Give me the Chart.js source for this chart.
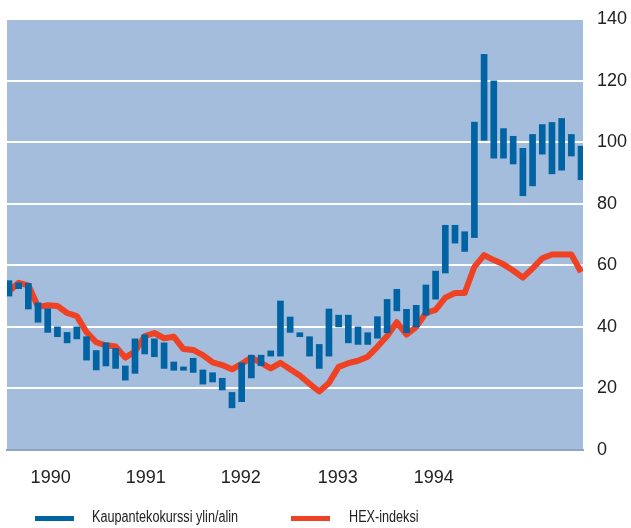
<!DOCTYPE html>
<html>
<head>
<meta charset="utf-8">
<script src="https://cdn.jsdelivr.net/npm/chart.js@4"></script>
<style>
body { margin: 0; background: #fff; }
#wrap { position: relative; width: 631px; height: 528px; }
#chart { position: absolute; left: 0; top: 0; }
.swatch { position: absolute; top: 516px; width: 39px; height: 5px; }
.legtext { position: absolute; top: 508px; font-family: "Liberation Sans", Arial, sans-serif; font-size: 16px; color: #222; white-space: nowrap; transform: scaleX(0.79); transform-origin: left center; }
</style>
</head>
<body>
<div id="wrap">
  <canvas id="chart" width="631" height="528"></canvas>
  <div class="swatch" style="left:35px;background:#0063a3"></div>
  <div class="legtext" style="left:92px">Kaupantekokurssi ylin/alin</div>
  <div class="swatch" style="left:291px;background:#ef4224"></div>
  <div class="legtext" style="left:349px">HEX-indeksi</div>
</div>
<script>
// tick labels and where they sit on the period axis
const yearLabels = ['1990', '1991', '1992', '1993', '1994'];
const yearTicks = [4.3, 14.1, 23.9, 33.9, 43.8];

// trading price low / high per period
const priceLow = [50, 52.4, 45.8, 41.5, 38.2, 36.8, 34.8, 36.1, 29.2, 26,
                  27.3, 26.5, 22.7, 24.9, 31.2, 30.3, 26.5, 25.9, 25.9, 25.2,
                  21.4, 22.1, 19.5, 13.7, 15.7, 23.4, 27.4, 30.5, 30.5, 38.2,
                  36.8, 30.5, 26.5, 30.5, 40, 34.8, 34.3, 34.3, 36.3, 38.1,
                  45.2, 38.1, 40, 43.8, 49, 57.5, 67.2, 64.5, 69, 100.6,
                  94.8, 94.8, 92.9, 82.6, 85.8, 96.1, 89.7, 90.9, 95.5, 87.8];
const priceHigh = [55, 54.3, 54.1, 47.8, 45.9, 40, 38.2, 40, 36.8, 32.3,
                   34.8, 33, 27.3, 36.1, 37.4, 36.1, 34.8, 28.6, 27, 29.8,
                   26, 25.1, 23.3, 18.7, 28.3, 30.8, 30.8, 32.2, 48.4, 43.2,
                   38.1, 36.8, 34.3, 45.8, 43.8, 43.8, 40, 38.1, 43.3, 48.9,
                   52.2, 45.7, 47, 53.6, 58.1, 73, 73, 70.9, 106.5, 128.5,
                   119.9, 104.4, 101.9, 98, 102.5, 105.7, 106.4, 107.7, 102.5, 98.7];
// HEX index
const hexIndex = [51.5, 54.3, 53.5, 46.5, 47, 46.8, 44.5, 43.5, 38.3, 35,
                  34, 33.6, 30, 32, 37, 38, 36.3, 36.8, 32.8, 32.5,
                  30.8, 28.5, 27.6, 26.2, 28, 30, 28.3, 26.5, 28.3, 26.2,
                  24.2, 21.5, 19, 21.8, 27, 28.2, 29, 30.3, 33.5, 37,
                  41.5, 37.5, 40, 44.5, 45.5, 49.5, 51, 51, 59.5, 63.3,
                  61.7, 60.3, 58.3, 56, 59, 62.3, 63.5, 63.5, 63.5, 57.8];

const fontFamily = '"Liberation Sans", Arial, sans-serif';

const plotBg = {
    id: 'plotBg',
    beforeDraw(chart) {
        const { ctx, chartArea: a } = chart;
        ctx.save();
        ctx.fillStyle = '#a5bddc';
        ctx.fillRect(a.left, a.top, a.right - a.left, a.bottom - a.top);
        ctx.restore();
    }
};

// keep the scales from pushing the plot area around
const noPad = (s) => { s.paddingTop = 0; s.paddingBottom = 0; s.paddingLeft = 0; s.paddingRight = 0; };

new Chart(document.getElementById('chart'), {
    data: {
        datasets: [
            {
                type: 'bar',
                label: 'Kaupantekokurssi ylin/alin',
                data: priceLow.map((lo, i) => ({ x: i, y: [lo, priceHigh[i]] })),
                backgroundColor: '#0063a3',
                borderWidth: 0,
                barThickness: 6,
                order: 0
            },
            {
                type: 'line',
                label: 'HEX-indeksi',
                data: hexIndex.map((v, i) => ({ x: i, y: v })),
                borderColor: '#ef4224',
                borderWidth: 6,
                pointRadius: 0,
                tension: 0,
                borderJoinStyle: 'round',
                order: 1
            }
        ]
    },
    options: {
        responsive: false,
        animation: false,
        layout: { padding: { left: 7, top: 19, right: 0, bottom: 30 } },
        plugins: { legend: { display: false }, tooltip: { enabled: false } },
        scales: {
            x: {
                type: 'linear',
                offset: false,
                min: -0.2,
                max: 59.2,
                afterBuildTicks: (s) => { s.ticks = yearTicks.map(v => ({ value: v })); },
                afterFit: (s) => { s.height = 48; noPad(s); },
                ticks: {
                    callback: (v, i) => yearLabels[i],
                    font: { size: 18, family: fontFamily },
                    color: '#222',
                    padding: 17,
                    maxRotation: 0,
                    autoSkip: false
                },
                grid: { display: false, drawTicks: false, offset: false },
                border: { display: true, color: '#8ea6c6', width: 2 }
            },
            y: {
                position: 'right',
                min: 0,
                max: 140,
                afterFit: (s) => { s.width = 48; noPad(s); },
                ticks: {
                    stepSize: 20,
                    padding: 14,
                    font: { size: 18, family: fontFamily },
                    color: '#222'
                },
                grid: {
                    color: (c) => c.tick.value === 0 ? 'rgba(0,0,0,0)' : '#ffffff',
                    lineWidth: 2,
                    drawTicks: false
                },
                border: { display: false }
            }
        }
    },
    plugins: [plotBg]
});
</script>
</body>
</html>
